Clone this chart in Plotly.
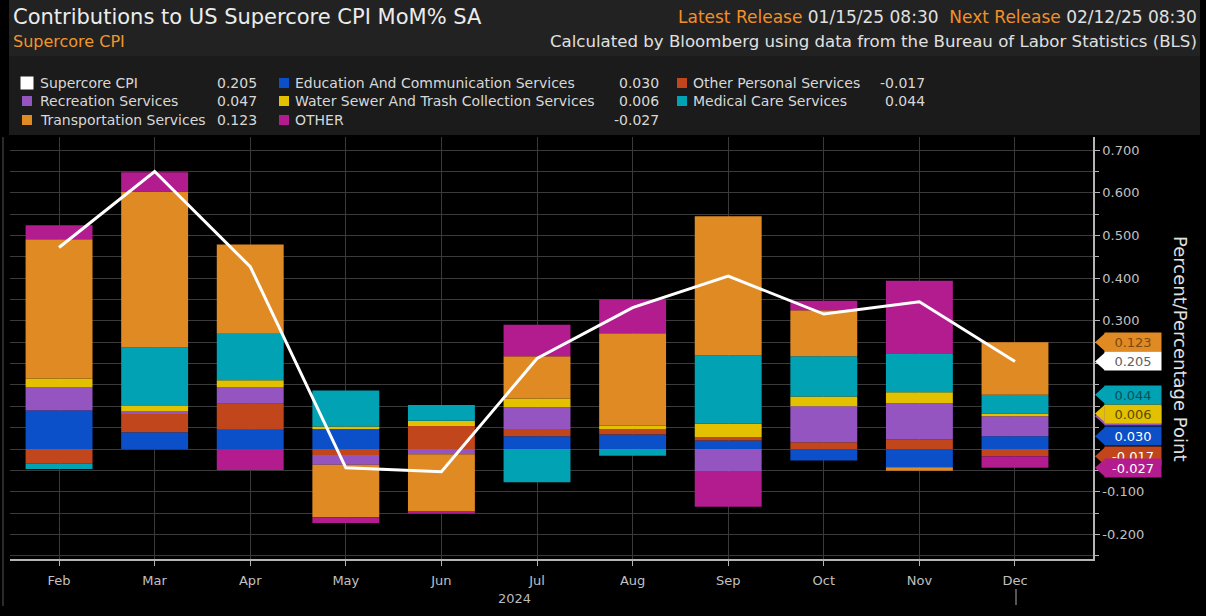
import plotly.graph_objects as go

# ---------------- data ----------------
months = ["Feb", "Mar", "Apr", "May", "Jun", "Jul", "Aug", "Sep", "Oct", "Nov", "Dec"]
education = [0.090, 0.039, 0.045, 0.047, 0.000, 0.030, 0.034, 0.020, -0.027, -0.043, 0.030]
other_personal = [-0.034, 0.043, 0.061, -0.014, 0.054, 0.017, 0.012, 0.008, 0.016, 0.023, -0.017]
recreation = [0.055, 0.006, 0.039, -0.023, -0.012, 0.051, 0.000, -0.053, 0.084, 0.084, 0.047]
water = [0.020, 0.013, 0.016, 0.006, 0.012, 0.020, 0.009, 0.031, 0.023, 0.026, 0.006]
medical = [-0.013, 0.137, 0.109, 0.084, 0.037, -0.078, -0.016, 0.160, 0.094, 0.091, 0.044]
transport = [0.326, 0.365, 0.209, -0.123, -0.133, 0.099, 0.216, 0.326, 0.108, -0.008, 0.123]
other = [0.033, 0.045, -0.049, -0.013, -0.006, 0.074, 0.079, -0.082, 0.022, 0.170, -0.027]
supercore = [0.472, 0.650, 0.427, -0.044, -0.053, 0.212, 0.331, 0.405, 0.316, 0.345, 0.205]
y_tickvals = [-0.2, -0.1, 0.0, 0.1, 0.2, 0.3, 0.4, 0.5, 0.6, 0.7]

# ---------------- style ----------------
FONT = "DejaVu Sans, sans-serif"
W_FIG, H_FIG = 1206, 616
L, R, T, B = 10, 1093, 137, 559
YMIN, YMAX = -0.2576, 0.7307
XMIN, XMAX = -0.513, 10.816
PX_PER_UNIT = (B - T) / (YMAX - YMIN)

def px(x):
    return (x - L) / (R - L)

def py(y):
    return (B - y) / (B - T)

def vy(v):
    return (v - YMIN) / (YMAX - YMIN)

series = [
    ("Education And Communication Services", education, "#0b50c8", "#ffffff"),
    ("Other Personal Services", other_personal, "#c2461b", "#ffffff"),
    ("Recreation Services", recreation, "#9455c0", "#ffffff"),
    ("Water Sewer And Trash Collection Services", water, "#e3c000", "#5a4a00"),
    ("Medical Care Services", medical, "#00a2b3", "#0a4f58"),
    ("Transportation Services", transport, "#e08a24", "#7a4810"),
    ("OTHER", other, "#b21c8e", "#ffffff"),
]

fig = go.Figure()
for name, vals, col, _ in series:
    fig.add_trace(go.Bar(x=months, y=vals, name=name, marker=dict(color=col, line=dict(width=0))))
fig.add_trace(go.Scatter(x=months, y=supercore, name="Supercore CPI", mode="lines",
                         line=dict(color="#ffffff", width=3)))

shapes = []
annotations = []

# header bands
shapes.append(dict(type="rect", xref="paper", yref="paper", x0=px(9), x1=px(1200), y0=py(0), y1=py(56),
                   fillcolor="#222222", line=dict(width=0), layer="below"))
shapes.append(dict(type="rect", xref="paper", yref="paper", x0=px(9), x1=px(1200), y0=py(56), y1=py(135),
                   fillcolor="#1b1b1b", line=dict(width=0), layer="below"))
# left border line
shapes.append(dict(type="line", xref="paper", yref="paper", x0=px(3), x1=px(3), y0=py(137), y1=py(606),
                   line=dict(color="#555555", width=1)))
# year separator mark under Dec
shapes.append(dict(type="line", xref="paper", yref="paper", x0=px(1016), x1=px(1016), y0=py(589), y1=py(605),
                   line=dict(color="#aaaaaa", width=1)))

# title texts
annotations.append(dict(xref="paper", yref="paper", x=px(11), y=py(17), xanchor="left", yanchor="middle",
                        text="Contributions to US Supercore CPI MoM% SA", showarrow=False,
                        font=dict(family=FONT, size=21, color="#ececec")))
annotations.append(dict(xref="paper", yref="paper", x=px(11), y=py(41), xanchor="left", yanchor="middle",
                        text="Supercore CPI", showarrow=False,
                        font=dict(family=FONT, size=16, color="#f0962c")))
annotations.append(dict(xref="paper", yref="paper", x=px(1199), y=py(17), xanchor="right", yanchor="middle",
                        text="<span style='color:#f0902a'>Latest Release</span> 01/15/25 08:30  "
                             "<span style='color:#f0902a'>Next Release</span> 02/12/25 08:30",
                        showarrow=False, font=dict(family=FONT, size=17, color="#e0e0e0")))
annotations.append(dict(xref="paper", yref="paper", x=px(1199), y=py(41), xanchor="right", yanchor="middle",
                        text="Calculated by Bloomberg using data from the Bureau of Labor Statistics (BLS)",
                        showarrow=False, font=dict(family=FONT, size=16.6, color="#e0e0e0")))

# custom legend
by_name = {n: (v, c) for n, v, c, _ in series}
by_name["Supercore CPI"] = (supercore, "#ffffff")
legend_cols = [
    (["Supercore CPI", "Recreation Services", "Transportation Services"], 22, 40, 257),
    (["Education And Communication Services", "Water Sewer And Trash Collection Services", "OTHER"], 279, 295, 659),
    (["Other Personal Services", "Medical Care Services"], 677, 693, 925),
]
row_y = [83, 101, 120]
for names, sq_x, txt_x, val_x in legend_cols:
    for i, nm in enumerate(names):
        vals, col = by_name[nm]
        yc = row_y[i]
        s = 6.5 if nm == "Supercore CPI" else 5
        shapes.append(dict(type="rect", xref="paper", yref="paper", x0=px(sq_x + 5 - s), x1=px(sq_x + 5 + s),
                           y0=py(yc + s), y1=py(yc - s), fillcolor=col, line=dict(width=0)))
        annotations.append(dict(xref="paper", yref="paper", x=px(txt_x - 2), y=py(yc), xanchor="left",
                                yanchor="middle", text=nm, showarrow=False,
                                font=dict(family=FONT, size=14, color="#d8d8d8")))
        annotations.append(dict(xref="paper", yref="paper", x=px(val_x + 2), y=py(yc), xanchor="right",
                                yanchor="middle", text=f"{vals[-1]:.3f}", showarrow=False,
                                font=dict(family=FONT, size=14, color="#d8d8d8")))

# right-axis value tags (at stacked positions of the latest bar)
pos, neg = 0.0, 0.0
tags = []
for name, vals, col, tcol in series:
    v = vals[-1]
    if v >= 0:
        pos += v
        anchor = pos
    else:
        neg += v
        anchor = neg
    tags.append((anchor, v, col, tcol))
tags.append((supercore[-1], supercore[-1], "#ffffff", "#606060"))

for anchor, v, col, tcol in tags:
    yp = vy(anchor)
    hp = 9 / (B - T)
    shapes.append(dict(type="path", xref="paper", yref="paper",
                       path=f"M {px(1095)} {yp} L {px(1105)} {yp + hp} L {px(1105)} {yp - hp} Z",
                       fillcolor=col, line=dict(width=0)))
    annotations.append(dict(xref="paper", yref="paper", x=px(1104), y=yp, xanchor="left", yanchor="middle",
                            text=f"{v:.3f}", showarrow=False, bgcolor=col, width=56, height=18,
                            borderpad=0, align="center",
                            font=dict(family=FONT, size=13, color=tcol)))

# tick labels hidden behind the value tags are left blank
tag_vals = [a for a, _, _, _ in tags]
y_ticktext = ["" if any(abs(t - a) * PX_PER_UNIT < 14 for a in tag_vals) else f"{t:.3f}" for t in y_tickvals]

# axis title (reads top to bottom)
annotations.append(dict(xref="paper", yref="paper", x=px(1181), y=py(349), xanchor="center", yanchor="middle",
                        text="Percent/Percentage Point", textangle=90, showarrow=False,
                        font=dict(family=FONT, size=18, color="#e0e0e0")))
# year label
annotations.append(dict(xref="paper", yref="paper", x=px(514), y=py(598), xanchor="center", yanchor="middle",
                        text="2024", showarrow=False, font=dict(family=FONT, size=13, color="#bbbbbb")))

fig.update_layout(
    width=W_FIG, height=H_FIG,
    margin=dict(l=L, r=W_FIG - R, t=T, b=H_FIG - B, autoexpand=False),
    paper_bgcolor="#000000", plot_bgcolor="#000000",
    barmode="relative", bargap=0.30,
    showlegend=False,
    shapes=shapes, annotations=annotations,
    font=dict(family=FONT, color="#bbbbbb"),
    xaxis=dict(type="category", range=[XMIN, XMAX], showgrid=True, gridcolor="#3a3a3a", gridwidth=1,
               showline=True, linecolor="#b5b5b5", linewidth=1.5, ticks="outside", ticklen=5,
               ticklabelstandoff=4,
               tickcolor="#b5b5b5", tickfont=dict(family=FONT, size=13, color="#c0c0c0"), zeroline=False),
    yaxis=dict(side="right", range=[YMIN, YMAX], tickvals=y_tickvals, ticktext=y_ticktext,
               showgrid=True, gridcolor="#3a3a3a", gridwidth=1, zeroline=False,
               showline=True, linecolor="#b5b5b5", linewidth=1.5,
               ticks="outside", ticklen=5, tickcolor="#b5b5b5",
               tickfont=dict(family=FONT, size=13, color="#c0c0c0"),
               minor=dict(dtick=0.05, tick0=0, showgrid=True, gridcolor="#3a3a3a", ticks="outside",
                          ticklen=4, tickcolor="#b5b5b5")),
)

fig.write_html("out.html", config={"displayModeBar": False},
               post_script="document.body.style.margin='0px';document.body.style.background='#000000';")
